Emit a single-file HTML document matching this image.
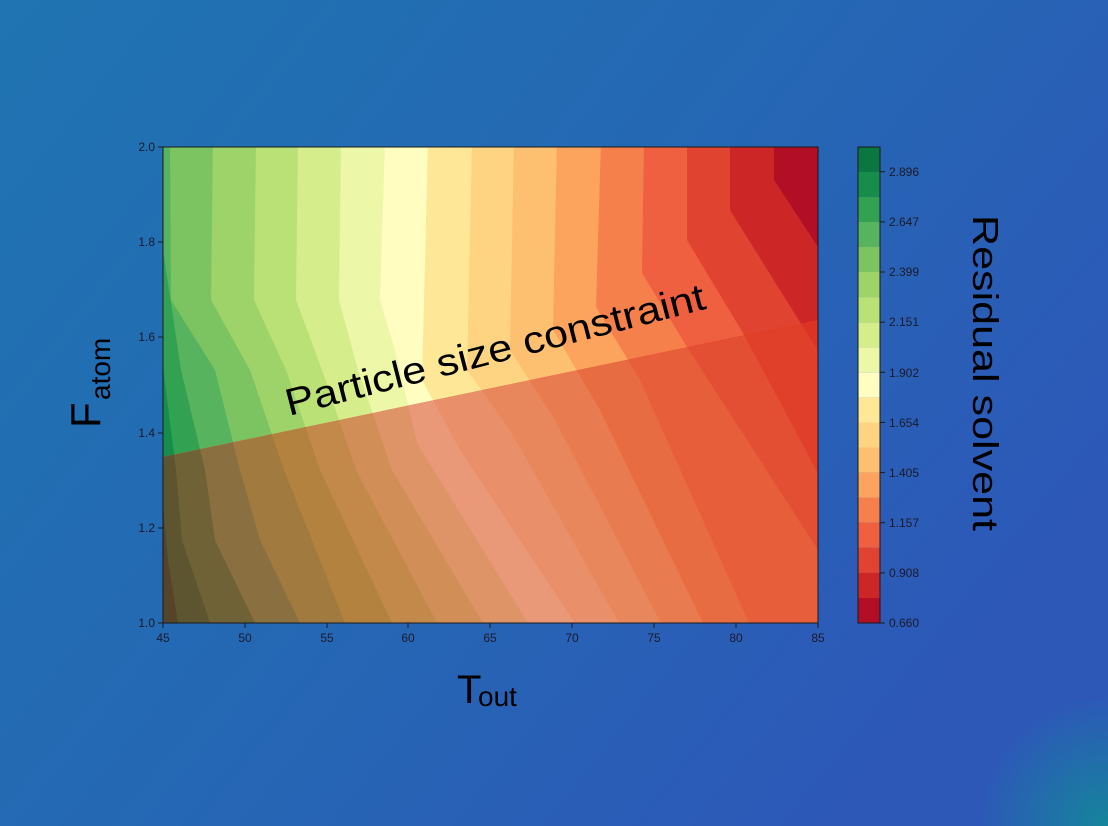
<!DOCTYPE html>
<html><head><meta charset="utf-8"><style>
html,body{margin:0;padding:0;width:1108px;height:826px;overflow:hidden}
svg{display:block}
</style></head><body>
<svg width="1108" height="826" viewBox="0 0 1108 826" xmlns="http://www.w3.org/2000/svg" font-family="Liberation Sans, DejaVu Sans, sans-serif">
<defs>
<linearGradient id="bg" x1="0" y1="0" x2="1" y2="0.6">
<stop offset="0" stop-color="#1f74b1"/>
<stop offset="0.55" stop-color="#2567b4"/>
<stop offset="1" stop-color="#2d58b8"/>
</linearGradient>
<radialGradient id="br" cx="1108" cy="826" r="130" gradientUnits="userSpaceOnUse">
<stop offset="0" stop-color="#128a98" stop-opacity="0.9"/>
<stop offset="1" stop-color="#128a98" stop-opacity="0"/>
</radialGradient>
<clipPath id="plot"><rect x="163" y="147" width="655" height="476"/></clipPath>
<clipPath id="low"><polygon points="163,457 818,320 818,623 163,623"/></clipPath>
</defs>
<rect width="1108" height="826" fill="url(#bg)"/>
<rect width="1108" height="826" fill="url(#br)"/>

<g clip-path="url(#plot)">
<rect x="163" y="147" width="655" height="476" fill="#b20f27"/>
<polygon fill="#cc2627" points="774,140 774,180 818,247 840,280 840,650 100,650 100,140"/>
<polygon fill="#e0432f" points="730,140 730,210 800,322 840,385 840,650 100,650 100,140"/>
<polygon fill="#ef6040" points="687,140 687,240 743,333 818,473 840,510 840,650 100,650 100,140"/>
<polygon fill="#f5804c" points="644,140 642,273 687,347 818,550 840,585 840,650 100,650 100,140"/>
<polygon fill="#fca45e" points="601,140 596,307 640,380 749,623 760,650 100,650 100,140"/>
<polygon fill="#fdbf70" points="557,140 553,330 600,410 703,623 712,650 100,650 100,140"/>
<polygon fill="#fed482" points="514,140 510,350 555,420 661,623 670,650 100,650 100,140"/>
<polygon fill="#fee898" points="472,140 467,370 510,430 619,623 628,650 100,650 100,140"/>
<polygon fill="#fffdc0" points="428,140 422,380 460,450 575,623 584,650 100,650 100,140"/>
<polygon fill="#ecf7a8" points="385,140 380,300 395,350 417,443 528,623 537,650 100,650 100,140"/>
<polygon fill="#d6ed8b" points="341,140 339,300 358,370 392,470 483,623 492,650 100,650 100,140"/>
<polygon fill="#bae176" points="298,140 296,300 322,370 356,470 437,623 446,650 100,650 100,140"/>
<polygon fill="#9dd369" points="256,140 254,300 286,370 320,470 392,623 400,650 100,650 100,140"/>
<polygon fill="#7cc462" points="213,140 211,300 250,370 284,470 345,623 354,650 100,650 100,140"/>
<polygon fill="#57b35e" points="170,140 171,300 215,370 240,470 260,540 300,623 309,650 100,650 100,140"/>
<polygon fill="#33a152" points="100,245 163,250 181,370 205,470 215,540 255,623 262,650 100,650"/>
<polygon fill="#178d4c" points="100,362 163,367 176,470 182,540 210,623 215,650 100,650"/>

<g clip-path="url(#low)">
<rect x="163" y="147" width="655" height="476" fill="#d5281d"/>
<polygon fill="#dc3324" points="774,140 774,180 818,247 840,280 840,650 100,650 100,140"/>
<polygon fill="#e0402a" points="730,140 730,210 800,322 840,385 840,650 100,650 100,140"/>
<polygon fill="#e34f33" points="687,140 687,240 743,333 818,473 840,510 840,650 100,650 100,140"/>
<polygon fill="#e65e3a" points="644,140 642,273 687,347 818,550 840,585 840,650 100,650 100,140"/>
<polygon fill="#e86c42" points="601,140 596,307 640,380 749,623 760,650 100,650 100,140"/>
<polygon fill="#e87b4f" points="557,140 553,330 600,410 703,623 712,650 100,650 100,140"/>
<polygon fill="#e8875c" points="514,140 510,350 555,420 661,623 670,650 100,650 100,140"/>
<polygon fill="#e9906a" points="472,140 467,370 510,430 619,623 628,650 100,650 100,140"/>
<polygon fill="#e99878" points="428,140 422,380 460,450 575,623 584,650 100,650 100,140"/>
<polygon fill="#df9468" points="385,140 380,300 395,350 417,443 528,623 537,650 100,650 100,140"/>
<polygon fill="#d18e56" points="341,140 339,300 358,370 392,470 483,623 492,650 100,650 100,140"/>
<polygon fill="#c3894a" points="298,140 296,300 322,370 356,470 437,623 446,650 100,650 100,140"/>
<polygon fill="#b4823f" points="256,140 254,300 286,370 320,470 392,623 400,650 100,650 100,140"/>
<polygon fill="#a07a3e" points="213,140 211,300 250,370 284,470 345,623 354,650 100,650 100,140"/>
<polygon fill="#8a7040" points="170,140 171,300 215,370 240,470 260,540 300,623 309,650 100,650 100,140"/>
<polygon fill="#6e6236" points="100,245 163,250 181,370 205,470 215,540 255,623 262,650 100,650"/>
<polygon fill="#5c5530" points="100,362 163,367 176,470 182,540 210,623 215,650 100,650"/>
<polygon fill="#55442a" points="100,500 163,505 168,560 178,623 180,650 100,650"/>
</g>
</g>
<rect x="163" y="147" width="655" height="476" fill="none" stroke="#1a1a1a" stroke-width="1"/>

<g stroke="#1a1a1a" stroke-width="1">
<line x1="163" y1="623" x2="163" y2="628"/><line x1="245" y1="623" x2="245" y2="628"/><line x1="327" y1="623" x2="327" y2="628"/><line x1="408" y1="623" x2="408" y2="628"/><line x1="490" y1="623" x2="490" y2="628"/><line x1="572" y1="623" x2="572" y2="628"/><line x1="654" y1="623" x2="654" y2="628"/><line x1="736" y1="623" x2="736" y2="628"/><line x1="818" y1="623" x2="818" y2="628"/>
<line x1="158" y1="147" x2="163" y2="147"/><line x1="158" y1="242" x2="163" y2="242"/><line x1="158" y1="337" x2="163" y2="337"/><line x1="158" y1="433" x2="163" y2="433"/><line x1="158" y1="528" x2="163" y2="528"/><line x1="158" y1="623" x2="163" y2="623"/>
</g>
<g font-size="12" fill="#1a1a2a" text-anchor="middle">
<text x="163" y="642">45</text><text x="245" y="642">50</text><text x="327" y="642">55</text><text x="408" y="642">60</text><text x="490" y="642">65</text><text x="572" y="642">70</text><text x="654" y="642">75</text><text x="736" y="642">80</text><text x="818" y="642">85</text>
</g>
<g font-size="12" fill="#1a1a2a" text-anchor="end">
<text x="155" y="151">2.0</text><text x="155" y="246">1.8</text><text x="155" y="341">1.6</text><text x="155" y="437">1.4</text><text x="155" y="532">1.2</text><text x="155" y="627">1.0</text>
</g>

<g>
<rect x="858" y="597.9" width="22" height="25.1" fill="#b20f27"/>
<rect x="858" y="572.9" width="22" height="25.1" fill="#cc2627"/>
<rect x="858" y="547.8" width="22" height="25.1" fill="#e0432f"/>
<rect x="858" y="522.7" width="22" height="25.1" fill="#ef6040"/>
<rect x="858" y="497.6" width="22" height="25.1" fill="#f5804c"/>
<rect x="858" y="472.6" width="22" height="25.1" fill="#fca45e"/>
<rect x="858" y="447.5" width="22" height="25.1" fill="#fdbf70"/>
<rect x="858" y="422.4" width="22" height="25.1" fill="#fed482"/>
<rect x="858" y="397.4" width="22" height="25.1" fill="#fee898"/>
<rect x="858" y="372.3" width="22" height="25.1" fill="#fffdc0"/>
<rect x="858" y="347.2" width="22" height="25.1" fill="#ecf7a8"/>
<rect x="858" y="322.2" width="22" height="25.1" fill="#d6ed8b"/>
<rect x="858" y="297.1" width="22" height="25.1" fill="#bae176"/>
<rect x="858" y="272" width="22" height="25.1" fill="#9dd369"/>
<rect x="858" y="246.9" width="22" height="25.1" fill="#7cc462"/>
<rect x="858" y="221.9" width="22" height="25.1" fill="#57b35e"/>
<rect x="858" y="196.8" width="22" height="25.1" fill="#33a152"/>
<rect x="858" y="171.7" width="22" height="25.1" fill="#178d4c"/>
<rect x="858" y="147" width="22" height="24.8" fill="#0a7640"/>
<rect x="858" y="147" width="22" height="476" fill="none" stroke="#1a1a1a" stroke-width="1"/>
</g>
<g stroke="#1a1a1a" stroke-width="1">
<line x1="880" y1="171.7" x2="885" y2="171.7"/><line x1="880" y1="221.9" x2="885" y2="221.9"/><line x1="880" y1="272" x2="885" y2="272"/><line x1="880" y1="322.2" x2="885" y2="322.2"/><line x1="880" y1="372.3" x2="885" y2="372.3"/><line x1="880" y1="422.4" x2="885" y2="422.4"/><line x1="880" y1="472.6" x2="885" y2="472.6"/><line x1="880" y1="522.7" x2="885" y2="522.7"/><line x1="880" y1="572.9" x2="885" y2="572.9"/><line x1="880" y1="623" x2="885" y2="623"/>
</g>
<g font-size="12" fill="#1a1a2a">
<text x="889" y="176">2.896</text><text x="889" y="226">2.647</text><text x="889" y="276">2.399</text><text x="889" y="326">2.151</text><text x="889" y="377">1.902</text><text x="889" y="427">1.654</text><text x="889" y="477">1.405</text><text x="889" y="527">1.157</text><text x="889" y="577">0.908</text><text x="889" y="627">0.660</text>
</g>

<text transform="translate(973,215) rotate(90)" font-size="36" fill="#000" textLength="316" lengthAdjust="spacingAndGlyphs">Residual solvent</text>

<text transform="translate(100,428) rotate(-90)" font-size="42" fill="#000">F</text>
<text transform="translate(110,400) rotate(-90)" font-size="28" fill="#000">atom</text>

<text x="457" y="703" font-size="40" fill="#000">T</text>
<text x="478" y="706" font-size="28" fill="#000">out</text>

<text transform="translate(289,416) rotate(-14.4)" font-size="38" fill="#000" textLength="432" lengthAdjust="spacingAndGlyphs">Particle size constraint</text>
</svg>
</body></html>
